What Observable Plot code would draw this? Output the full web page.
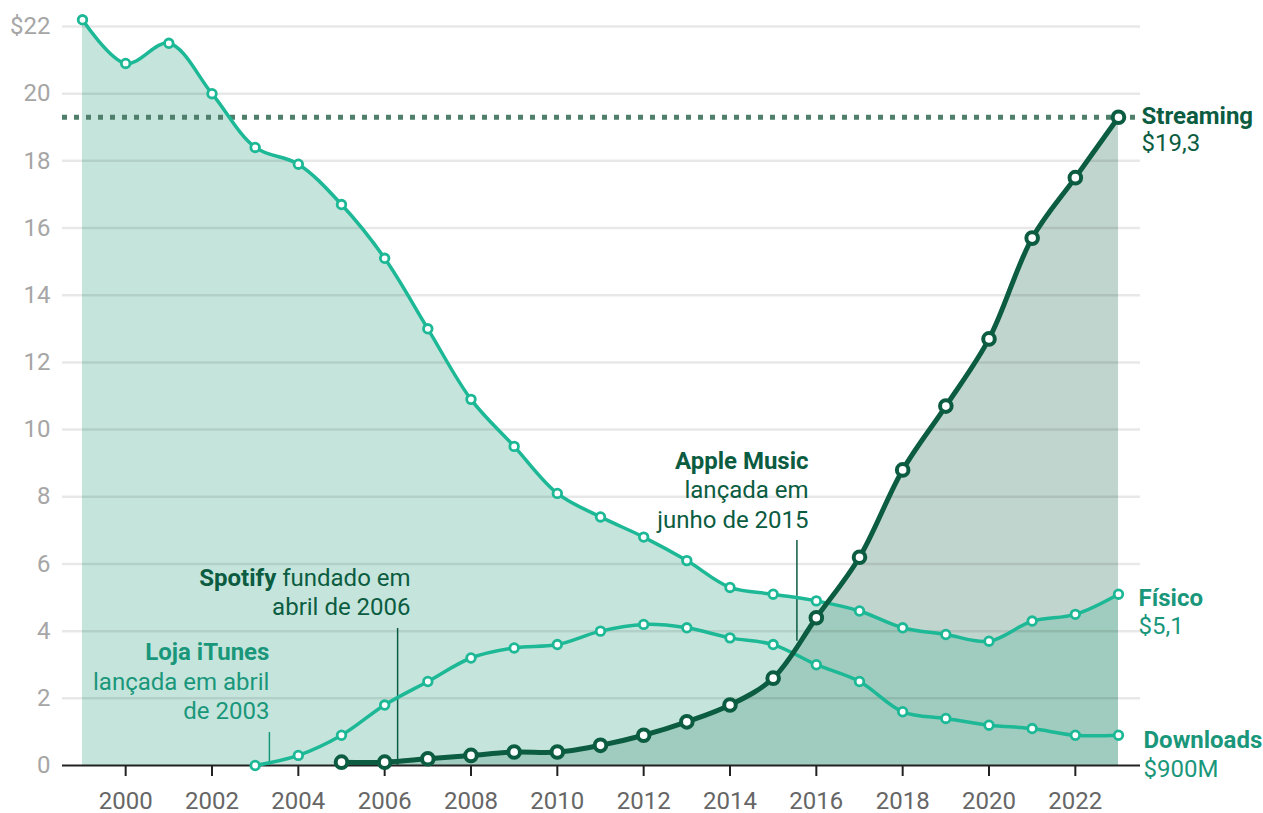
<!DOCTYPE html>
<html>
<head>
<meta charset="utf-8">
<script src="https://cdn.jsdelivr.net/npm/d3@7"></script>
<script src="https://cdn.jsdelivr.net/npm/@observablehq/plot@0.6"></script>
<style>
  html, body { margin: 0; padding: 0; background: #fff; }
  #chart svg { display: block; overflow: visible; }
</style>
</head>
<body>
<div id="chart"></div>
<script>
// ---- Data ----
const fisicoYears = [1999,2000,2001,2002,2003,2004,2005,2006,2007,2008,2009,2010,2011,2012,2013,2014,2015,2016,2017,2018,2019,2020,2021,2022,2023];
const fisicoValues = [22.2,20.9,21.5,20.0,18.4,17.9,16.7,15.1,13.0,10.9,9.5,8.1,7.4,6.8,6.1,5.3,5.1,4.9,4.6,4.1,3.9,3.7,4.3,4.5,5.1];

const downloadsYears = [2003,2004,2005,2006,2007,2008,2009,2010,2011,2012,2013,2014,2015,2016,2017,2018,2019,2020,2021,2022,2023];
const downloadsValues = [0,0.3,0.9,1.8,2.5,3.2,3.5,3.6,4.0,4.2,4.1,3.8,3.6,3.0,2.5,1.6,1.4,1.2,1.1,0.9,0.9];

const streamingYears = [2005,2006,2007,2008,2009,2010,2011,2012,2013,2014,2015,2016,2017,2018,2019,2020,2021,2022,2023];
const streamingValues = [0.1,0.1,0.2,0.3,0.4,0.4,0.6,0.9,1.3,1.8,2.6,4.4,6.2,8.8,10.7,12.7,15.7,17.5,19.3];

const yTicks = [0,2,4,6,8,10,12,14,16,18,20,22];
const xTicks = [2000,2002,2004,2006,2008,2010,2012,2014,2016,2018,2020,2022];

const seriesNames = ["Streaming", "Físico", "Downloads"];
const seriesEndLabels = ["$19,3", "$5,1", "$900M"];

// Event annotations
const eventNames = ["Loja iTunes", "Spotify", "Apple Music"];
const eventDates = [2003.33, 2006.3, 2015.55];
const eventRuleFrom = [0, 0, 3.7];
const eventRuleTo = [0.98, 4.08, 6.7];
const eventTextLines = [["lançada em abril", "de 2003"], ["fundado em", "abril de 2006"], ["lançada em", "junho de 2015"]];
const eventTextDate = [2003.33, 2006.6, 2015.82];
const eventTextTop = [3.36, 5.57, 9.05];

// ---- Build tables ----
const fisico = fisicoYears.map((y, i) => ({year: y, value: fisicoValues[i]}));
const downloads = downloadsYears.map((y, i) => ({year: y, value: downloadsValues[i]}));
const streaming = streamingYears.map((y, i) => ({year: y, value: streamingValues[i]}));

const TEAL = "#1db896";
const TEAL_TEXT = "#1a977b";
const DARK = "#0b5c41";
const FONT = "Roboto";
const FS = 24;
const LH = 29.3; // px line spacing
const yPerUnit = (765 - 26) / 22;
const lhUnits = LH / yPerUnit;

const ctx = document.createElement("canvas").getContext("2d");
ctx.font = `${FS}px ${FONT}`;
const fundadoW = ctx.measureText(eventTextLines[1][0]).width + ctx.measureText(" ").width;

const curve = "catmull-rom";
const eventColor = i => i === 0 ? TEAL_TEXT : DARK;

const titleRows = [0, 2].map(i => ({x: eventTextDate[i], y: eventTextTop[i], text: eventNames[i], color: eventColor(i)}));
const spotifyTitle = [{x: eventTextDate[1], y: eventTextTop[1], text: eventNames[1], color: eventColor(1)}];
const bodyRows = [];
eventTextLines.forEach((lines, i) => {
  const offset = i === 1 ? 0 : 1;
  lines.forEach((t, k) => bodyRows.push({x: eventTextDate[i], y: eventTextTop[i] - (k + offset) * lhUnits, text: t, color: eventColor(i)}));
});

const endOffsets = [[23, -1, 26], [20, 4, 32], [25, 5, 34]];
const endVals = [streamingValues.at(-1), fisicoValues.at(-1), downloadsValues.at(-1)];
const endMarks = [];
seriesNames.forEach((n, i) => {
  const color = i === 0 ? DARK : TEAL_TEXT;
  const [dx, dy1, dy2] = endOffsets[i];
  endMarks.push(Plot.text([{x: 2023, y: endVals[i], t: n}], {x: "x", y: "y", text: "t", textAnchor: "start", dx, dy: dy1, fontWeight: "bold", fontSize: FS, fill: color}));
  endMarks.push(Plot.text([{x: 2023, y: endVals[i], t: seriesEndLabels[i]}], {x: "x", y: "y", text: "t", textAnchor: "start", dx, dy: dy2, fontSize: FS, fill: color}));
});

const plot = Plot.plot({
  width: 1263,
  height: 813,
  marginTop: 26,
  marginBottom: 48,
  marginLeft: 62,
  marginRight: 123,
  style: {fontFamily: FONT, fontSize: FS + "px", overflow: "visible", background: "#fff"},
  x: {domain: [1998.5367, 2023.5097]},
  y: {domain: [0, 22]},
  marks: [
    Plot.areaY(streaming, {x: "year", y: "value", curve, fill: DARK, fillOpacity: 0.26}),
    Plot.areaY(fisico, {x: "year", y: "value", curve, fill: "#6ebea7", fillOpacity: 0.4}),
    Plot.ruleY(yTicks.filter(d => d > 0), {stroke: "#000", strokeOpacity: 0.09, strokeWidth: 2.5}),
    Plot.axisY({ticks: yTicks, tickSize: 0, tickPadding: 12, tickFormat: d => d === 22 ? "$22" : String(d), label: null, fill: "#a6a6a6", fontSize: FS}),
    Plot.axisX({ticks: xTicks, tickSize: 11, tickPadding: 15, tickFormat: d => String(d), label: null, stroke: "#222", strokeWidth: 2, fill: "#666", fontSize: FS}),
    Plot.ruleY([0], {stroke: "#222", strokeWidth: 2}),
    Plot.ruleY([streamingValues.at(-1)], {stroke: "#4f7f6b", strokeWidth: 5, strokeDasharray: "5,7"}),
    Plot.ruleX(eventDates, {x: d => d, y1: (d, i) => eventRuleFrom[i], y2: (d, i) => eventRuleTo[i], stroke: (d, i) => eventColor(i), strokeWidth: 1.5}),
    Plot.lineY(fisico, {x: "year", y: "value", curve, stroke: TEAL, strokeWidth: 3.5}),
    Plot.lineY(downloads, {x: "year", y: "value", curve, stroke: TEAL, strokeWidth: 3.5}),
    Plot.lineY(streaming, {x: "year", y: "value", curve, stroke: DARK, strokeWidth: 5}),
    Plot.dot(fisico, {x: "year", y: "value", r: 4.3, fill: "#fff", stroke: TEAL, strokeWidth: 2.8}),
    Plot.dot(downloads, {x: "year", y: "value", r: 4.3, fill: "#fff", stroke: TEAL, strokeWidth: 2.8}),
    Plot.dot(streaming, {x: "year", y: "value", r: 5.8, fill: "#fff", stroke: DARK, strokeWidth: 4}),
    ...endMarks,
    Plot.text(titleRows, {x: "x", y: "y", text: "text", textAnchor: "end", fontWeight: "bold", fontSize: FS, fill: "color"}),
    Plot.text(spotifyTitle, {x: "x", y: "y", text: "text", textAnchor: "end", fontWeight: "bold", fontSize: FS, fill: "color", dx: -fundadoW}),
    Plot.text(bodyRows, {x: "x", y: "y", text: "text", textAnchor: "end", fontSize: FS, fill: "color"})
  ]
});

document.getElementById("chart").appendChild(plot);
</script>
</body>
</html>
